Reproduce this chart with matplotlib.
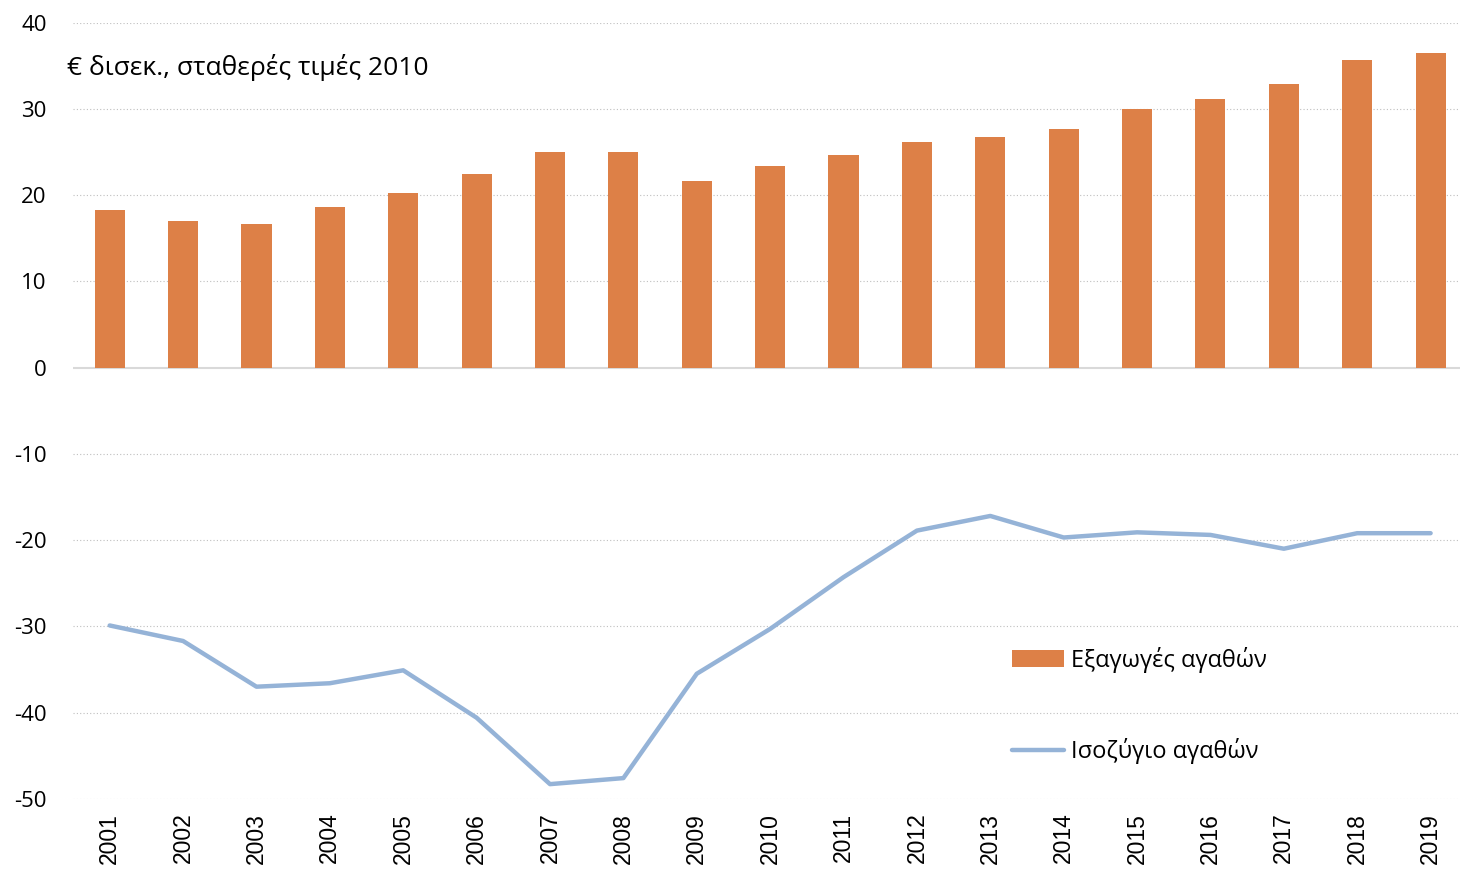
#!/usr/bin/env python3

import numpy as np
from matplotlib import pyplot as plt

years = [str(y) for y in range(2001, 2020)]
exports = [18.3, 17.0, 16.7, 18.6, 20.2, 22.4, 25.0, 25.0, 21.7, 23.4,
           24.6, 26.2, 26.7, 27.7, 30.0, 31.2, 32.9, 35.7, 36.5]
balance = [-29.9, -31.7, -37.0, -36.6, -35.1, -40.6, -48.3, -47.6, -35.5, -30.3,
           -24.3, -18.9, -17.2, -19.7, -19.1, -19.4, -21.0, -19.2, -19.2]

plt.rcParams['font.family'] = ['Open Sans', 'DejaVu Sans']
plt.rcParams['axes.unicode_minus'] = False

fig = plt.figure(figsize=(14.6, 8.73), dpi=100)
ax = fig.add_axes([0.05, 0.085, 0.955, 0.889])

x = np.arange(len(years))
bars = ax.bar(x, exports, width=0.41, color='#DD8047', label='Εξαγωγές αγαθών', zorder=2)
line, = ax.plot(x, balance, color='#95B3D7', linewidth=3.2, label='Ισοζύγιο αγαθών',
                solid_capstyle='round', zorder=3)

ax.set_xlim(-0.5, len(years) - 0.5)
ax.set_ylim(-50, 40)
ax.set_yticks(range(-50, 41, 10))
ax.set_xticks(x)
ax.set_xticklabels(years, rotation=90, fontsize=16.5, family=['Liberation Sans', 'DejaVu Sans'])
ax.tick_params(axis='y', labelsize=16, length=0, pad=19)
ax.tick_params(axis='x', length=0, pad=10)

for v in range(-50, 41, 10):
    if v == 0:
        ax.axhline(0, color='#d9d9d9', linewidth=1.5, zorder=1)
    else:
        ax.axhline(v, color='#bfbfbf', linewidth=0.8, linestyle=(0, (1, 2)), zorder=1)

for s in ax.spines.values():
    s.set_visible(False)

fig.text(0.046, 0.923, '€ δισεκ., σταθερές τιμές 2010', fontsize=19, va='center', ha='left')

ax.legend([bars, line], ['Εξαγωγές αγαθών', 'Ισοζύγιο αγαθών'],
          loc='upper left', bbox_to_anchor=(0.658, 0.223), frameon=False, fontsize=17,
          handlelength=2.2, labelspacing=2.75, handletextpad=0.3)

plt.savefig('out.png')
